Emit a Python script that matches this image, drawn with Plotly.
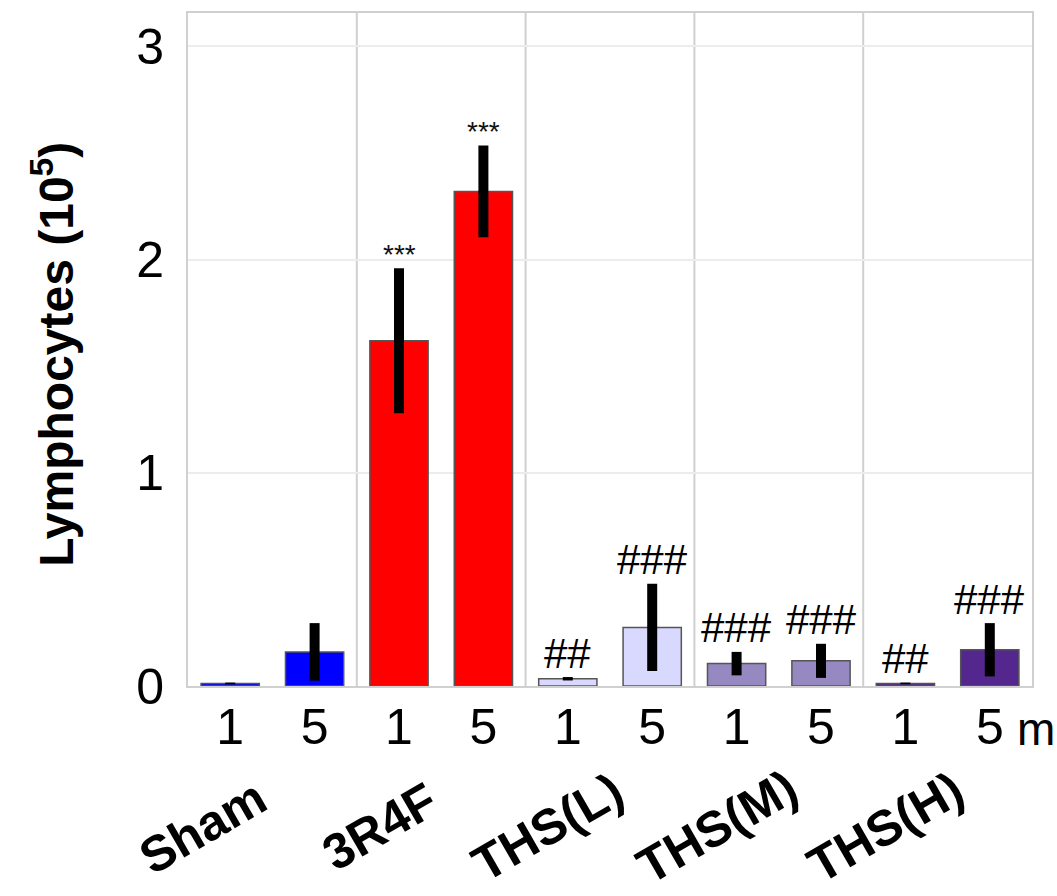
import plotly.graph_objects as go

groups = ["Sham", "3R4F", "THS(L)", "THS(M)", "THS(H)"]
doses = ["1", "5"]
group_colors = ["#0000FF", "#FF0000", "#D9D9FF", "#9689C1", "#54278F"]

values = [0.012, 0.16, 1.62, 2.32, 0.034, 0.275, 0.105, 0.118, 0.012, 0.17]
errors = [0.004, 0.135, 0.34, 0.215, 0.008, 0.205, 0.055, 0.08, 0.004, 0.125]
sig_labels = ["", "", "***", "***", "##", "###", "###", "###", "##", "###"]

FONT = "Liberation Sans, Arial, sans-serif"

W, H = 1057, 896
ml, mr, mt, mb = 188, 25, 13, 209.5
pw, ph = W - ml - mr, H - mt - mb

n = len(values)
xs = list(range(n))
bar_colors = [group_colors[i // 2] for i in range(n)]
tick_text = [doses[i % 2] for i in range(n)]

fig = go.Figure()
fig.add_trace(go.Bar(
    x=xs, y=values, width=0.69,
    marker=dict(color=bar_colors, line=dict(color="#555555", width=1.5)),
    error_y=dict(type="data", array=errors, visible=True, color="black",
                 thickness=10, width=0),
    showlegend=False,
))

# significance marks
for i, lab in enumerate(sig_labels):
    if not lab:
        continue
    star = lab.startswith("*")
    fig.add_annotation(
        x=xs[i], y=values[i] + errors[i], xref="x", yref="y",
        text=lab, showarrow=False, yanchor="middle",
        yshift=14 if star else 24,
        font=dict(family=FONT, size=28 if star else 42, color="#111111" if star else "black"),
    )

# group separators
for g in range(1, len(groups)):
    fig.add_shape(type="line", xref="x", yref="paper",
                  x0=2 * g - 0.5, x1=2 * g - 0.5, y0=0, y1=1,
                  line=dict(color="#d0d0d0", width=2), layer="below")

# group labels
for g, name in enumerate(groups):
    fig.add_annotation(
        x=2 * g + 0.5 - (0.82 if g == 0 else 0.73),
        y=-(828 - (H - mb)) / ph,
        xref="x", yref="paper", text="<b>%s</b>" % name, showarrow=False,
        textangle=-30, xanchor="center", yanchor="middle",
        font=dict(family=FONT, size=50, color="black"),
    )

# unit label
fig.add_annotation(x=(1057 - ml) / pw, y=-(730 - (H - mb)) / ph,
                   xref="paper", yref="paper", text="m",
                   showarrow=False, xanchor="right", yanchor="middle",
                   font=dict(family=FONT, size=46, color="black"))

# y title
fig.add_annotation(x=(53 - ml) / pw, y=(H - mb - 355) / ph,
                   xref="paper", yref="paper",
                   text="<b>Lymphocytes (10<sup>5</sup>)</b>", showarrow=False,
                   textangle=-90, xanchor="center", yanchor="middle",
                   font=dict(family=FONT, size=48, color="black"))

fig.update_layout(
    width=W, height=H,
    margin=dict(l=ml, r=mr, t=mt, b=mb, pad=0),
    plot_bgcolor="white", paper_bgcolor="white",
    font=dict(family=FONT, color="black"),
)
fig.update_xaxes(
    range=[-0.5, n - 0.5], tickvals=xs, ticktext=tick_text,
    tickfont=dict(family=FONT, size=50, color="black"),
    showgrid=False, zeroline=False, ticks="", ticklabelstandoff=-4,
    showline=True, mirror=True, linecolor="#d0d0d0", linewidth=2,
)
fig.update_yaxes(
    range=[0, 3.157], tickvals=[0, 1, 2, 3],
    tickfont=dict(family=FONT, size=50, color="black"),
    showgrid=True, gridcolor="#ececec", gridwidth=1.5, zeroline=False,
    ticks="", ticklabelstandoff=12,
    showline=True, mirror=True, linecolor="#d0d0d0", linewidth=2,
)

fig.write_html("out.html", config={"displayModeBar": False},
               post_script="document.body.style.margin='0px';document.body.style.overflow='hidden';")
